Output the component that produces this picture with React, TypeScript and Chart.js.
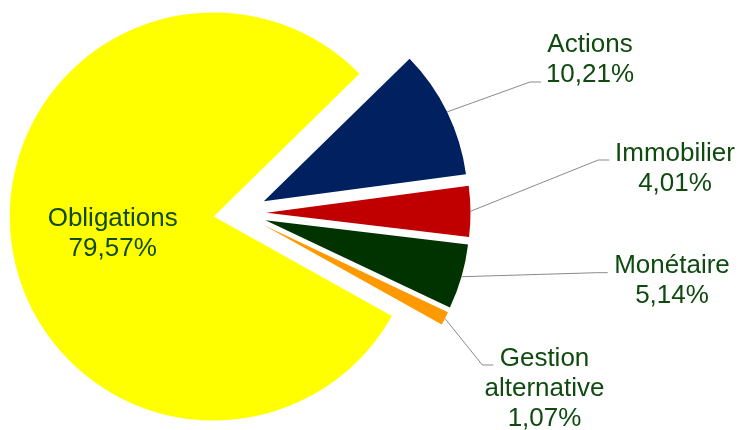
import React, { useEffect, useRef } from 'react';
import { Chart, registerables } from 'chart.js';

Chart.register(...registerables);

// ---- data ----
const categories = ['Actions', 'Immobilier', 'Monétaire', 'Gestion alternative', 'Obligations'];
const shares = [10.21, 4.01, 5.14, 1.07, 79.57];
const colors = ['#002060', '#C00000', '#003300', '#FF9900', '#FFFF00'];

// ---- label layout (offsets from pie centre, px) ----
const labelAnchors: number[][] = [
  [350, -160.7],
  [435, -52.3],
  [432, 60.3],
  [304.5, 153],
  [-127.3, 13],
];
const leaderEnds: (number[] | null)[] = [
  [301, -131],
  [369.3, -53],
  [367.7, 59.7],
  [253.3, 152],
  null,
];

const EXPLODE = 26.5;
const FONT = '26px "Liberation Sans", Arial, sans-serif';
const TEXT_COLOR = '#0F4A0F';
const LINE_HEIGHT = 30;

const fmt = (v: number) => v.toFixed(2).replace('.', ',') + '%';

const explodePlugin = {
  id: 'explodeSlices',
  beforeDatasetDraw(chart: any, args: any) {
    const ctx = chart.ctx;
    args.meta.data.forEach((arc: any) => {
      const p = arc.getProps(['startAngle', 'endAngle'], true);
      const mid = (p.startAngle + p.endAngle) / 2;
      ctx.save();
      ctx.translate(Math.cos(mid) * EXPLODE, Math.sin(mid) * EXPLODE);
      arc.draw(ctx);
      ctx.restore();
    });
    return false;
  },
};

const labelPlugin = {
  id: 'sliceLabels',
  afterDatasetsDraw(chart: any) {
    const ctx = chart.ctx;
    const meta = chart.getDatasetMeta(0);
    meta.data.forEach((arc: any, i: number) => {
      const p = arc.getProps(['x', 'y', 'startAngle', 'endAngle', 'outerRadius'], true);
      const mid = (p.startAngle + p.endAngle) / 2;
      const cx = p.x + Math.cos(mid) * EXPLODE;
      const cy = p.y + Math.sin(mid) * EXPLODE;
      const lead = leaderEnds[i];
      if (lead) {
        const sx = cx + Math.cos(mid) * p.outerRadius;
        const sy = cy + Math.sin(mid) * p.outerRadius;
        const ex = p.x + lead[0];
        const ey = p.y + lead[1];
        ctx.save();
        ctx.strokeStyle = '#8A8A8A';
        ctx.lineWidth = 1;
        ctx.beginPath();
        ctx.moveTo(sx, sy);
        ctx.lineTo(ex - 11, ey);
        ctx.lineTo(ex, ey);
        ctx.stroke();
        ctx.restore();
      }
      const lines = [...categories[i].split(' '), fmt(shares[i])];
      const ax = p.x + labelAnchors[i][0];
      const ay = p.y + labelAnchors[i][1];
      ctx.save();
      ctx.font = FONT;
      ctx.fillStyle = TEXT_COLOR;
      ctx.textAlign = 'center';
      ctx.textBaseline = 'alphabetic';
      lines.forEach((t, k) => ctx.fillText(t, ax, ay + k * LINE_HEIGHT));
      ctx.restore();
    });
  },
};

export default function App() {
  const ref = useRef<HTMLCanvasElement | null>(null);
  useEffect(() => {
    if (!ref.current) return;
    const chart = new Chart(ref.current, {
      type: 'pie',
      data: {
        labels: categories,
        datasets: [
          {
            data: shares,
            backgroundColor: colors,
            borderWidth: 0,
            hoverOffset: 0,
          },
        ],
      },
      options: {
        responsive: false,
        animation: false,
        rotation: 45.6,
        radius: 204,
        layout: { padding: { left: 0, top: 0, right: 259, bottom: 4 } },
        plugins: {
          legend: { display: false },
          tooltip: { enabled: false },
        },
        events: [],
      },
      plugins: [explodePlugin, labelPlugin],
    } as any);
    return () => chart.destroy();
  }, []);
  return (
    <div style={{ position: 'fixed', left: 0, top: 0, width: 739, height: 430, background: '#fff' }}>
      <canvas ref={ref} width={739} height={430} style={{ width: 739, height: 430 }} />
    </div>
  );
}
